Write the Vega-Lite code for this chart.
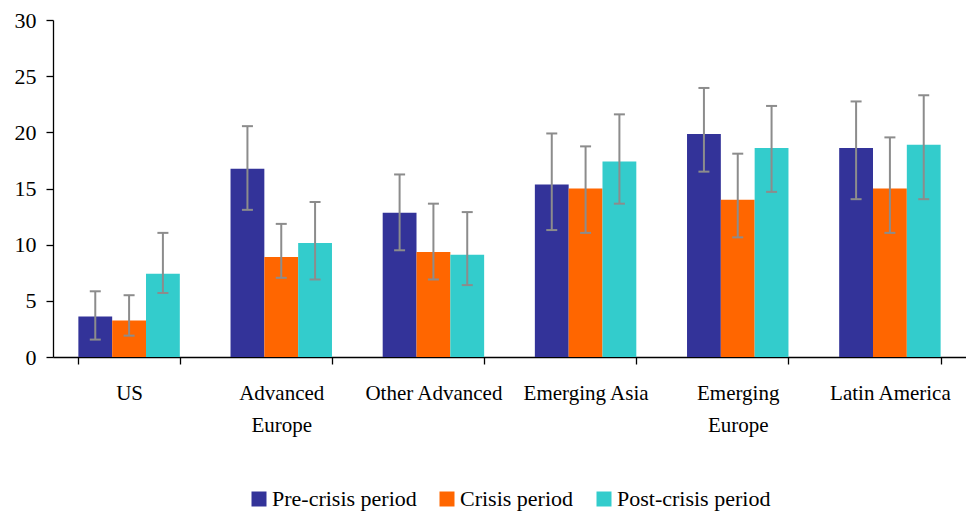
{
  "$schema": "https://vega.github.io/schema/vega-lite/v6.json",
  "width": 913,
  "height": 337,
  "autosize": {"type": "none"},
  "padding": {"left": 53, "top": 20, "right": 0, "bottom": 155},
  "background": "white",
  "config": {
    "view": {"stroke": null},
    "font": "Liberation Serif",
    "axis": {"grid": false, "domainColor": "black", "tickColor": "black", "labelColor": "black", "labelFont": "Liberation Serif", "domainWidth": 1.3, "tickWidth": 1.3}
  },
  "data": {
    "values": [
      {"region": "US", "period": "Pre-crisis period", "value": 3.6, "lo": 1.55, "hi": 5.85},
      {"region": "US", "period": "Crisis period", "value": 3.25, "lo": 1.9, "hi": 5.5},
      {"region": "US", "period": "Post-crisis period", "value": 7.4, "lo": 5.7, "hi": 11.05},
      {"region": "Advanced Europe", "period": "Pre-crisis period", "value": 16.75, "lo": 13.1, "hi": 20.55},
      {"region": "Advanced Europe", "period": "Crisis period", "value": 8.9, "lo": 7.05, "hi": 11.85},
      {"region": "Advanced Europe", "period": "Post-crisis period", "value": 10.15, "lo": 6.9, "hi": 13.8},
      {"region": "Other Advanced", "period": "Pre-crisis period", "value": 12.85, "lo": 9.5, "hi": 16.25},
      {"region": "Other Advanced", "period": "Crisis period", "value": 9.35, "lo": 6.9, "hi": 13.65},
      {"region": "Other Advanced", "period": "Post-crisis period", "value": 9.1, "lo": 6.4, "hi": 12.9},
      {"region": "Emerging Asia", "period": "Pre-crisis period", "value": 15.35, "lo": 11.3, "hi": 19.9},
      {"region": "Emerging Asia", "period": "Crisis period", "value": 15.0, "lo": 11.05, "hi": 18.75},
      {"region": "Emerging Asia", "period": "Post-crisis period", "value": 17.4, "lo": 13.65, "hi": 21.6},
      {"region": "Emerging Europe", "period": "Pre-crisis period", "value": 19.85, "lo": 16.5, "hi": 23.95},
      {"region": "Emerging Europe", "period": "Crisis period", "value": 14.0, "lo": 10.65, "hi": 18.1},
      {"region": "Emerging Europe", "period": "Post-crisis period", "value": 18.6, "lo": 14.7, "hi": 22.35},
      {"region": "Latin America", "period": "Pre-crisis period", "value": 18.6, "lo": 14.05, "hi": 22.75},
      {"region": "Latin America", "period": "Crisis period", "value": 15.0, "lo": 11.05, "hi": 19.55},
      {"region": "Latin America", "period": "Post-crisis period", "value": 18.9, "lo": 14.05, "hi": 23.3}
    ]
  },
  "encoding": {
    "x": {
      "field": "region",
      "type": "nominal",
      "sort": null,
      "scale": {"paddingInner": 0.3333, "paddingOuter": 0.1667},
      "axis": {
        "title": null,
        "labelAngle": 0,
        "labelFontSize": 21,
        "labelPadding": 18,
        "labelLineHeight": 32,
        "tickSize": 7,
        "tickBand": "extent",
        "labelExpr": "indexof(datum.label, ' Europe') > 0 ? split(datum.label, ' ') : datum.label"
      }
    },
    "xOffset": {
      "field": "period",
      "type": "nominal",
      "sort": ["Pre-crisis period", "Crisis period", "Post-crisis period"],
      "scale": {"paddingInner": 0, "paddingOuter": 0}
    }
  },
  "layer": [
    {
      "mark": {"type": "bar"},
      "encoding": {
        "y": {
          "field": "value",
          "type": "quantitative",
          "scale": {"domain": [0, 30], "nice": false},
          "axis": {"title": null, "values": [0, 5, 10, 15, 20, 25, 30], "labelFontSize": 22, "tickSize": 7, "labelPadding": 10}
        },
        "color": {
          "field": "period",
          "type": "nominal",
          "sort": ["Pre-crisis period", "Crisis period", "Post-crisis period"],
          "scale": {"domain": ["Pre-crisis period", "Crisis period", "Post-crisis period"], "range": ["#333399", "#FF6600", "#33CCCC"]},
          "legend": {
            "title": null,
            "orient": "none",
            "legendX": 195,
            "legendY": 468,
            "direction": "horizontal",
            "symbolType": "square",
            "symbolSize": 225,
            "symbolStrokeWidth": 0,
            "symbolOpacity": 1,
            "labelFontSize": 22,
            "labelFont": "Liberation Serif",
            "labelColor": "black",
            "labelOffset": 2,
            "columnPadding": 19
          }
        }
      }
    },
    {
      "mark": {"type": "rule", "color": "#8c8c8c", "strokeWidth": 2},
      "encoding": {
        "y": {"field": "lo", "type": "quantitative"},
        "y2": {"field": "hi"}
      }
    },
    {
      "mark": {"type": "tick", "orient": "horizontal", "color": "#8c8c8c", "size": 11, "thickness": 2, "opacity": 1},
      "encoding": {
        "y": {"field": "hi", "type": "quantitative"}
      }
    },
    {
      "mark": {"type": "tick", "orient": "horizontal", "color": "#8c8c8c", "size": 11, "thickness": 2, "opacity": 1},
      "encoding": {
        "y": {"field": "lo", "type": "quantitative"}
      }
    }
  ]
}
